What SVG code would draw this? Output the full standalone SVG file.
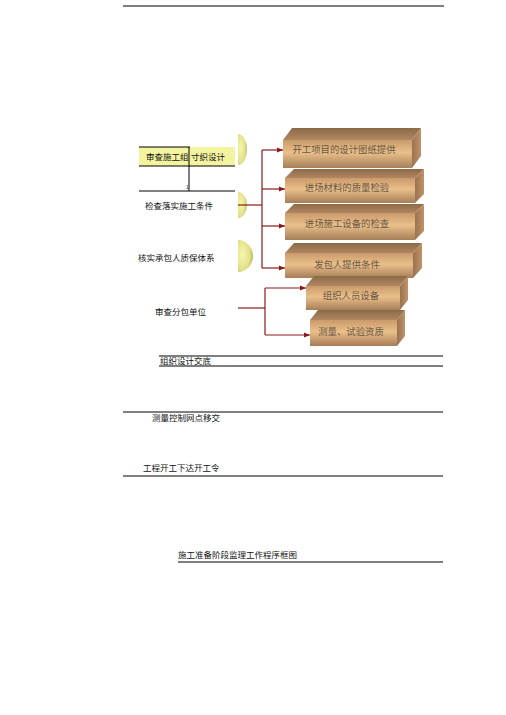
<svg xmlns="http://www.w3.org/2000/svg" width="506" height="715" viewBox="0 0 506 715">
<style>
.ln{stroke:#000;stroke-width:1;fill:none}
.lt{font-family:"Liberation Sans","Noto Sans CJK SC",sans-serif;font-size:8.5px;fill:#111}
.bt{font-family:"Liberation Serif","Noto Sans CJK SC",serif;font-size:9.4px;fill:#6a5845;text-anchor:middle;dominant-baseline:central}
.top{fill:url(#gTop)}
.front{fill:url(#gFront)}
.side{fill:url(#gSide)}
.cn{stroke:#8b1a1a;stroke-width:1.2;fill:none}
.ball{fill:url(#gBall)}
</style>
<defs>
<linearGradient id="gTop" x1="0" y1="0" x2="0" y2="1">
<stop offset="0" stop-color="#8c6a48"/><stop offset="1" stop-color="#b08660"/>
</linearGradient>
<linearGradient id="gFront" x1="0" y1="0" x2="0" y2="1">
<stop offset="0" stop-color="#c99a6a"/><stop offset="0.45" stop-color="#eabf8a"/><stop offset="1" stop-color="#a67e58"/>
</linearGradient>
<linearGradient id="gSide" x1="0" y1="0" x2="1" y2="0">
<stop offset="0" stop-color="#9a7350"/><stop offset="1" stop-color="#c09268"/>
</linearGradient>
<radialGradient id="gBall" cx="0.3" cy="0.45" r="0.8">
<stop offset="0" stop-color="#f6f6b0"/><stop offset="0.6" stop-color="#e2e28a"/><stop offset="1" stop-color="#a8a858"/>
</radialGradient>
<marker id="ar" viewBox="0 0 10 10" refX="10" refY="5" markerWidth="6" markerHeight="6" markerUnits="userSpaceOnUse" orient="auto">
<path d="M0 1 L10 5 L0 9 Z" fill="#8b1a1a"/>
</marker>
</defs>

<line class="ln" x1="123" y1="6" x2="444" y2="6"/>

<g id="n-review-design">
<rect x="139" y="147" width="96" height="19" fill="#f4f4a0"/>
<line class="ln" x1="139" y1="147" x2="190" y2="147"/>
<line class="ln" x1="139" y1="166" x2="235" y2="166"/>
<line class="ln" x1="139" y1="191" x2="235" y2="191"/>
<line class="ln" x1="189" y1="147" x2="189" y2="191"/>
<text class="lt" x="146" y="160">审查施工组</text>
<text class="lt" x="191" y="160">寸织设计</text>
<text x="186" y="189" style="font-family:'Liberation Sans',sans-serif;font-size:5px;fill:#333">1</text>
<path class="ball" d="M238 134 A9 15.5 0 0 1 238 165 Z"/>
</g>

<g id="n-check-conditions">
<text class="lt" x="145" y="209">检查落实施工条件</text>
<path class="ball" d="M238 192 A9 13 0 0 1 238 218 Z"/>
</g>

<g id="n-quality-system">
<text class="lt" x="138" y="261">核实承包人质保体系</text>
<path class="ball" d="M238 240 A15 16 0 0 1 238 272 Z"/>
</g>

<g id="n-subcontract">
<text class="lt" x="155" y="315">审查分包单位</text>
</g>

<g id="b1">
<polygon class="top" points="283,140 292,128 421,128 412,140"/>
<polygon class="side" points="412,140 421,128 421,156 412,168"/>
<rect class="front" x="283" y="140" width="129" height="28"/>
<text class="bt" x="344" y="150">开工项目的设计图纸提供</text>
</g>
<g id="b2">
<polygon class="top" points="285,178 294,169 424,169 415,178"/>
<polygon class="side" points="415,178 424,169 424,194 415,203"/>
<rect class="front" x="285" y="178" width="130" height="25"/>
<text class="bt" x="347" y="188">进场材料的质量检验</text>
</g>
<g id="b3">
<polygon class="top" points="285,213 294,204 424,204 415,213"/>
<polygon class="side" points="415,213 424,204 424,231 415,240"/>
<rect class="front" x="285" y="213" width="130" height="27"/>
<text class="bt" x="347" y="224">进场施工设备的检查</text>
</g>
<g id="b4">
<polygon class="top" points="285,253 294,243 422,243 413,253"/>
<polygon class="side" points="413,253 422,243 422,268 413,278"/>
<rect class="front" x="285" y="253" width="128" height="25"/>
<text class="bt" x="347" y="265">发包人提供条件</text>
</g>
<g id="b5">
<polygon class="top" points="306,286 314,276 408,276 400,286"/>
<polygon class="side" points="400,286 408,276 408,300 400,310"/>
<rect class="front" x="306" y="286" width="94" height="24"/>
<text class="bt" x="351" y="296">组织人员设备</text>
</g>
<g id="b6">
<polygon class="top" points="310,320 318,310 405,310 397,320"/>
<polygon class="side" points="397,320 405,310 405,336 397,346"/>
<rect class="front" x="310" y="320" width="87" height="26"/>
<text class="bt" x="351" y="332">测量、试验资质</text>
</g>

<g id="connectors">
<line class="cn" x1="238" y1="205" x2="262" y2="205"/>
<line class="cn" x1="262" y1="150" x2="262" y2="268"/>
<line class="cn" x1="262" y1="150" x2="283" y2="150" marker-end="url(#ar)"/>
<line class="cn" x1="262" y1="189" x2="285" y2="189" marker-end="url(#ar)"/>
<line class="cn" x1="262" y1="226" x2="285" y2="226" marker-end="url(#ar)"/>
<line class="cn" x1="262" y1="268" x2="285" y2="268" marker-end="url(#ar)"/>
<line class="cn" x1="238" y1="308" x2="265" y2="308"/>
<line class="cn" x1="265" y1="288" x2="265" y2="335"/>
<line class="cn" x1="265" y1="288" x2="306" y2="288" marker-end="url(#ar)"/>
<line class="cn" x1="265" y1="335" x2="310" y2="335" marker-end="url(#ar)"/>
</g>

<g id="n-disclosure">
<line class="ln" x1="159" y1="356" x2="443" y2="356"/>
<line class="ln" x1="159" y1="366" x2="443" y2="366"/>
<text class="lt" x="160" y="364">组织设计交底</text>
</g>

<g id="n-survey">
<line class="ln" x1="123" y1="412" x2="443" y2="412"/>
<text class="lt" x="152" y="421">测量控制网点移交</text>
</g>

<g id="n-start">
<text class="lt" x="143" y="471">工程开工下达开工令</text>
<line class="ln" x1="123" y1="476" x2="443" y2="476"/>
</g>

<g id="title">
<text class="lt" x="178" y="558">施工准备阶段监理工作程序框图</text>
<line class="ln" x1="178" y1="562" x2="443" y2="562"/>
</g>
</svg>
